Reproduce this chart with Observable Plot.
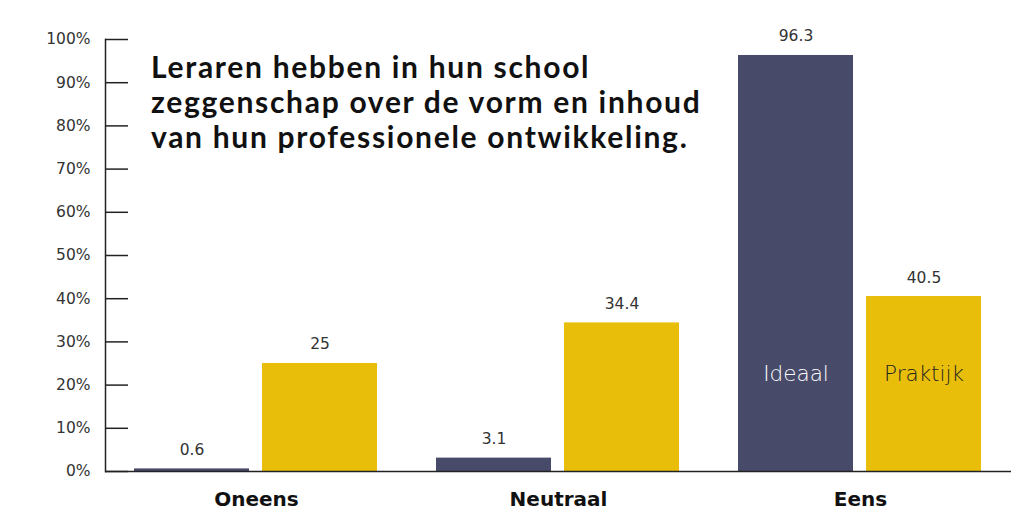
<!DOCTYPE html>
<html><head><meta charset="utf-8">
<script src="https://cdn.jsdelivr.net/npm/d3@7"></script>
<script src="https://cdn.jsdelivr.net/npm/@observablehq/plot@0.6"></script>
<style>
body{margin:0;background:#fff;}
#wrap{position:relative;width:1024px;height:525px;font-family:Lato,sans-serif;}
#title{position:absolute;left:151px;top:49px;font-size:30px;line-height:35px;font-weight:700;letter-spacing:1.7px;color:#111;white-space:nowrap;}
</style></head><body><div id="wrap"><div id="title"></div></div>
<script>
const categories = ["Oneens", "Neutraal", "Eens"];
const series = ["Ideaal", "Praktijk"];
const ideaal = [0.6, 3.1, 96.3];
const praktijk = [25, 34.4, 40.5];
const colors = ["#474a69", "#e8be0b"];
const yTicks = [0, 10, 20, 30, 40, 50, 60, 70, 80, 90, 100];
const yTickLabels = ["0%", "10%", "20%", "30%", "40%", "50%", "60%", "70%", "80%", "90%", "100%"];
const titleLines = ["Leraren hebben in hun school", "zeggenschap over de vorm en inhoud", "van hun professionele ontwikkeling."];

document.getElementById("title").innerHTML = titleLines.join("<br>");

const data = categories.flatMap((c, i) => [
  {category: c, series: series[0], value: ideaal[i]},
  {category: c, series: series[1], value: praktijk[i]}
]);

const numFont = "DejaVu Sans, sans-serif";

const chart = Plot.plot({
  width: 1024, height: 525,
  marginLeft: 104, marginRight: 13, marginTop: 39, marginBottom: 54,
  style: {fontFamily: numFont, background: "transparent"},
  fx: {domain: categories, padding: 0, label: null},
  x: {domain: series, paddingInner: 0.1, paddingOuter: 0.227, axis: null},
  y: {domain: [0, 100], label: null},
  color: {domain: series, range: colors},
  marks: [
    Plot.barY(data, {fx: "category", x: "series", y: "value", fill: "series"}),
    Plot.ruleY([0], {stroke: "#222", strokeWidth: 1.5}),
    Plot.frame({anchor: "left", facetAnchor: "left", stroke: "#222", strokeWidth: 1.5}),
    Plot.axisY({ticks: yTicks, tickFormat: d => yTickLabels[yTicks.indexOf(d)], tickSize: -23, tickPadding: 38,
      fontSize: 15.5, fill: "#333", stroke: "#222", strokeWidth: 1.5, label: null}),
    Plot.axisFx({anchor: "bottom", tickSize: 0, tickPadding: 20, fontSize: 20, fontWeight: "bold", fill: "#111", label: null}),
    Plot.text(data, {fx: "category", x: "series", y: "value", text: d => String(d.value), dy: -19, fontSize: 15.5, fill: "#333"}),
    Plot.text(data.filter(d => d.category === categories[2] && d.series === series[0]),
      {fx: "category", x: "series", text: "series", frameAnchor: "bottom", dy: -91, fontSize: 21.5, fontWeight: 200, fill: "white"}),
    Plot.text(data.filter(d => d.category === categories[2] && d.series === series[1]),
      {fx: "category", x: "series", text: "series", frameAnchor: "bottom", dy: -91, fontSize: 21.5, fontWeight: 200, fill: "#222"})
  ]
});
document.getElementById("wrap").prepend(chart);
</script>
</body></html>
